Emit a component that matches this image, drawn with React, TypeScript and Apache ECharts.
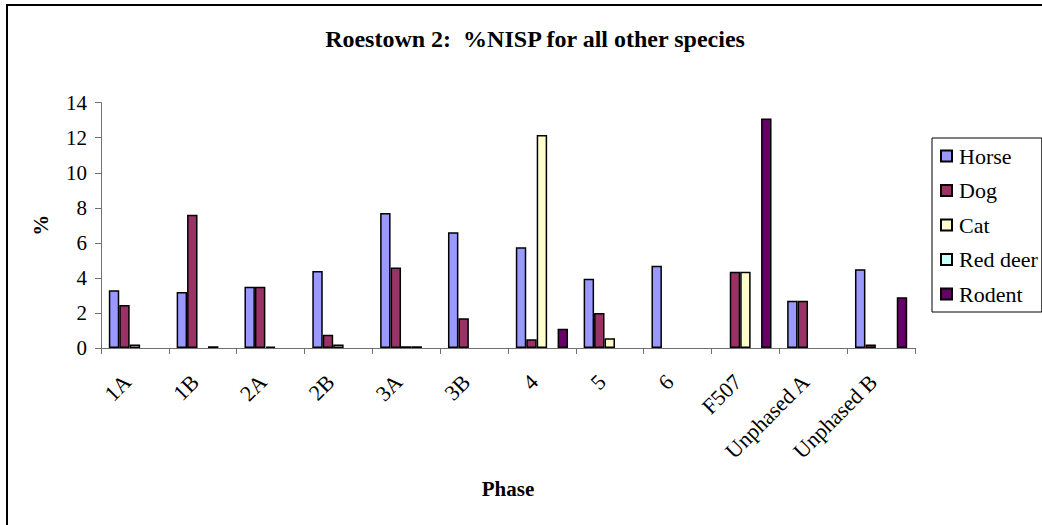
import React, { useEffect, useRef } from "react";
import * as echarts from "echarts";

const categories = ["1A", "1B", "2A", "2B", "3A", "3B", "4", "5", "6", "F507", "Unphased A", "Unphased B"];
const horse = [3.3, 3.2, 3.5, 4.4, 7.7, 6.6, 5.75, 3.95, 4.7, null, 2.7, 4.5];
const dog = [2.45, 7.6, 3.5, 0.75, 4.6, 1.7, 0.5, 2.0, null, 4.35, 2.7, 0.2];
const cat = [0.2, null, 0.08, 0.2, 0.1, null, 12.15, 0.55, null, 4.35, null, null];
const redDeer = [null, 0.1, null, null, 0.1, null, null, null, null, null, null, null];
const rodent = [null, null, null, null, null, null, 1.1, null, null, 13.1, null, 2.9];

const seriesNames = ["Horse", "Dog", "Cat", "Red deer", "Rodent"];
const seriesData = [horse, dog, cat, redDeer, rodent];
const seriesColors = ["#9999FF", "#993366", "#FFFFCC", "#CCFFFF", "#660066"];

const FONT = "'Liberation Serif', 'Times New Roman', serif";

export default function App() {
  const ref = useRef<HTMLDivElement>(null);
  useEffect(() => {
    if (!ref.current) return;
    const chart = echarts.init(ref.current, null, { renderer: "svg" });
    chart.setOption({
      animation: false,
      backgroundColor: "#ffffff",
      textStyle: { fontFamily: FONT, color: "#000" },
      title: {
        text: "Roestown 2:  %NISP for all other species",
        left: 530,
        top: 22,
        textAlign: "center",
        textStyle: { fontFamily: FONT, fontWeight: "bold", fontSize: 24, color: "#000" },
      },
      graphic: [
        {
          type: "rect",
          shape: { x: 7, y: 5, width: 1100, height: 600 },
          style: { fill: "none", stroke: "#000", lineWidth: 2 },
          silent: true,
        },
      ],
      legend: {
        orient: "vertical",
        left: 932,
        top: 138,
        padding: [7, 4, 7, 8],
        itemGap: 12.5,
        itemWidth: 11,
        itemHeight: 11,
        icon: "rect",
        borderColor: "#000",
        borderWidth: 1,
        textStyle: { fontFamily: FONT, fontSize: 22, color: "#000", lineHeight: 22, padding: [0, 0, 0, 2] },
        data: seriesNames,
      },
      grid: { left: 101, right: 127, top: 102.7, bottom: 177, containLabel: false },
      xAxis: {
        type: "category",
        data: categories,
        name: "Phase",
        nameLocation: "middle",
        nameGap: 130,
        nameTextStyle: { fontFamily: FONT, fontWeight: "bold", fontSize: 21, color: "#000" },
        axisLine: { lineStyle: { color: "#707070", width: 1 } },
        axisTick: { show: true, length: 6, alignWithLabel: false, lineStyle: { color: "#707070" } },
        axisLabel: {
          rotate: 45,
          margin: 38,
          verticalAlign: "bottom",
          fontFamily: FONT,
          fontSize: 22,
          color: "#000",
          interval: 0,
        },
        splitLine: { show: false },
      },
      yAxis: {
        type: "value",
        min: 0,
        max: 14,
        interval: 2,
        name: "%",
        nameLocation: "middle",
        nameGap: 50,
        nameTextStyle: { fontFamily: FONT, fontWeight: "bold", fontSize: 21, color: "#000" },
        axisLine: { show: true, lineStyle: { color: "#707070", width: 1 } },
        axisTick: { show: true, length: 6, lineStyle: { color: "#707070" } },
        axisLabel: { margin: 14, fontFamily: FONT, fontSize: 21, color: "#000" },
        splitLine: { show: false },
      },
      series: seriesNames.map((name, i) => ({
        name,
        type: "bar",
        data: seriesData[i].map((v) => (v === null ? "-" : v)),
        barGap: "0%",
        barCategoryGap: "23%",
        itemStyle: { color: seriesColors[i], borderColor: "#000", borderWidth: 1.5 },
      })),
    });
    return () => chart.dispose();
  }, []);
  return <div ref={ref} style={{ position: "absolute", left: 0, top: 0, width: 1042, height: 525 }} />;
}
